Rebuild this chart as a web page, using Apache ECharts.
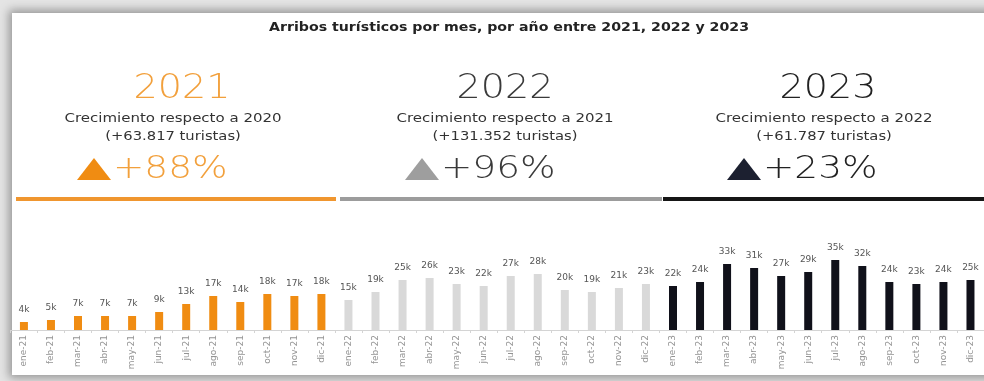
<!DOCTYPE html>
<html>
<head>
<meta charset="utf-8">
<script src="https://cdn.jsdelivr.net/npm/echarts@6/dist/echarts.min.js"></script>
<style>
  html, body { margin: 0; padding: 0; background: #e4e4e4; overflow: hidden; }
  #card {
    position: absolute; left: 12px; top: 13px; width: 990px; height: 362px;
    background: #ffffff; box-shadow: 0 0 9px 3px rgba(0,0,0,0.35);
  }
  #chart { position: absolute; left: 0; top: 0; width: 984px; height: 381px; }
</style>
</head>
<body>
<div id="card"></div>
<div id="chart"></div>
<script>
// Monthly arrivals, in thousands of tourists
const months = ['ene', 'feb', 'mar', 'abr', 'may', 'jun', 'jul', 'ago', 'sep', 'oct', 'nov', 'dic'];
const years = ['2021', '2022', '2023'];
const arrivals2021 = [4, 5, 7, 7, 7, 9, 13, 17, 14, 18, 17, 18];
const arrivals2022 = [15, 19, 25, 26, 23, 22, 27, 28, 20, 19, 21, 23];
const arrivals2023 = [22, 24, 33, 31, 27, 29, 35, 32, 24, 23, 24, 25];

// Yearly summary blocks
const baseYears = ['2020', '2021', '2022'];
const growthTourists = ['+63.817', '+131.352', '+61.787'];
const growthPct = ['+88%', '+96%', '+23%'];

const barColors = ['#F08C12', '#D9D9D9', '#10111A'];
const headColors = ['#F2A03C', '#3a3a3a', '#222222'];
const triColors = ['#F08C12', '#9E9E9E', '#1C2030'];
const ruleColors = ['#F0962F', '#9C9C9C', '#161616'];

const series = [arrivals2021, arrivals2022, arrivals2023];
const categories = [];
const barData = [];
years.forEach((y, yi) => {
  months.forEach((m, mi) => {
    categories.push(m + '-' + y.slice(2));
    barData.push({ value: series[yi][mi], itemStyle: { color: barColors[yi] } });
  });
});

// Header block layout
const blockCenters = [182, 505, 828];
const subCenters = [173, 505, 824];
const triLeft = [77, 405, 727];
const ruleSpans = [[16, 336], [340, 662], [663, 984]];

// Wide text: drawn at its own height, stretched horizontally
function wideText(str, x, y, font, fill, sx, align) {
  return {
    type: 'text', x: x, y: y, scaleX: sx,
    style: { text: str, x: 0, y: 0, align: align || 'center', verticalAlign: 'middle', font: font, fill: fill }
  };
}

const graphics = [];
graphics.push(wideText('Arribos turísticos por mes, por año entre 2021, 2022 y 2023',
  509, 28, '600 13px "DejaVu Sans"', '#222', 1.09));
years.forEach((y, i) => {
  graphics.push(wideText(y, blockCenters[i], 89, '200 34px "DejaVu Sans"', headColors[i], 1.12));
  graphics.push(wideText('Crecimiento respecto a ' + baseYears[i], subCenters[i], 119,
    '12.5px "DejaVu Sans"', '#333', 1.2));
  graphics.push(wideText('(' + growthTourists[i] + ' turistas)', subCenters[i], 137,
    '12.5px "DejaVu Sans"', '#333', 1.18));
  const tx = triLeft[i];
  graphics.push({
    type: 'polygon',
    shape: { points: [[tx, 180], [tx + 34, 180], [tx + 17, 158]] },
    style: { fill: triColors[i] }
  });
  graphics.push(wideText(growthPct[i], tx + 36, 170, '200 32px "DejaVu Sans"', headColors[i], 1.17, 'left'));
  graphics.push({
    type: 'rect',
    shape: { x: ruleSpans[i][0], y: 197, width: ruleSpans[i][1] - ruleSpans[i][0], height: 4 },
    style: { fill: ruleColors[i] }
  });
});

const chart = echarts.init(document.getElementById('chart'));
chart.setOption({
  animation: false,
  graphic: graphics,
  grid: { left: 10.4, width: 980.2, top: 230, height: 100 },
  xAxis: {
    type: 'category', data: categories,
    axisLine: { lineStyle: { color: '#d4d4d4' } },
    axisTick: { show: true, length: 3, lineStyle: { color: '#d4d4d4' } },
    axisLabel: { rotate: 90, interval: 0, fontSize: 9, color: '#949494', margin: 5,
      fontFamily: 'DejaVu Sans' }
  },
  yAxis: { type: 'value', min: 0, max: 50, show: false, splitLine: { show: false } },
  series: [{
    type: 'bar', data: barData, barWidth: 8,
    label: {
      show: true, position: 'top', distance: 8, fontSize: 9, color: '#555',
      fontFamily: 'DejaVu Sans', formatter: p => p.value + 'k'
    }
  }]
});
</script>
</body>
</html>
